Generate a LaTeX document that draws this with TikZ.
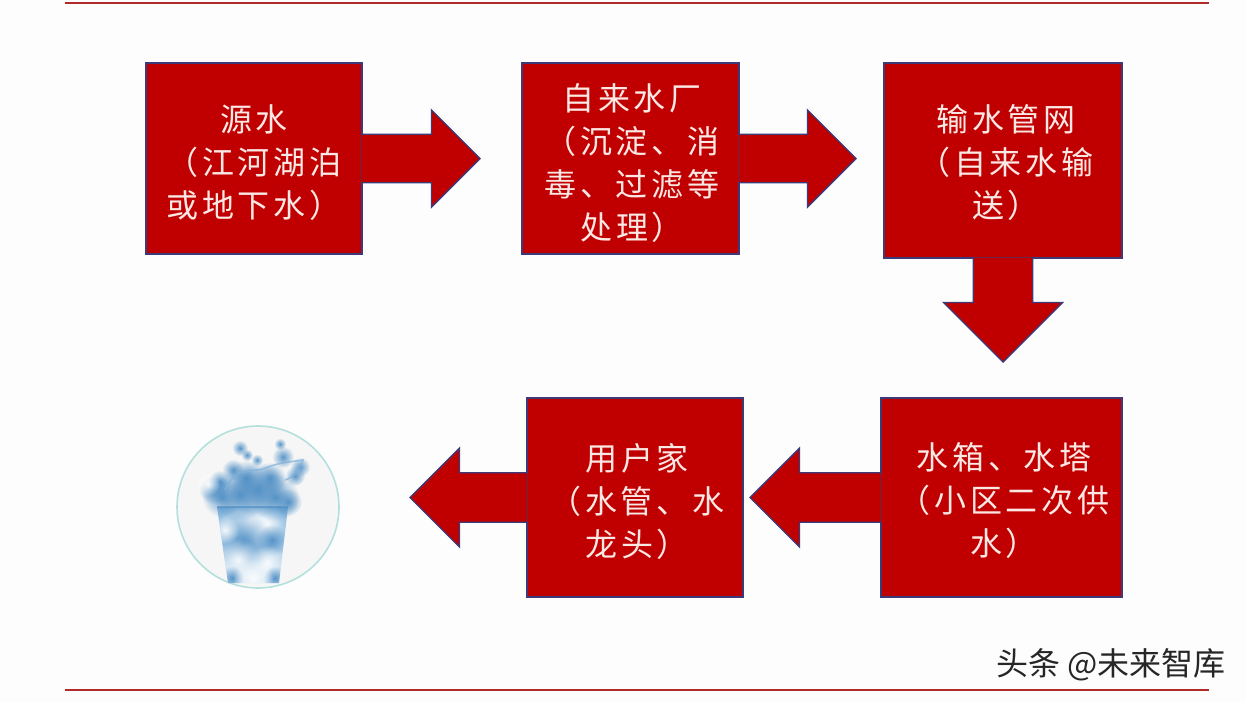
\documentclass[tikz,border=0pt]{standalone}
\usepackage{fontspec}
\usetikzlibrary{calc,fadings}
\newfontfamily\cjkFont[LetterSpace=12]{Noto Sans CJK SC}
\newfontfamily\creditFont{Noto Sans CJK SC}
\definecolor{boxRed}{HTML}{C00000}
\definecolor{boxEdge}{HTML}{3C3A78}
\definecolor{boxText}{HTML}{FBE8E4}
\definecolor{ruleRed}{HTML}{B22A2A}
\definecolor{pageWhite}{HTML}{FDFDFE}
\definecolor{waterBlue}{HTML}{7FB2DC}
\definecolor{waterDeep}{HTML}{4A8CC4}
\definecolor{ringTeal}{HTML}{B4E0DC}
\tikzfading[name=softBlob, inner color=transparent!10, outer color=transparent!100]
\tikzstyle{diagram} = [x = 1pt, y = -1pt]
\tikzstyle{stepBox} = [draw=boxEdge, fill=boxRed, line width=1.4pt, inner sep=0pt]
\tikzstyle{stepLabel} = [text=boxText, align=center, font=\cjkFont\fontsize{32}{43}\selectfont]
\tikzstyle{blockArrow} = [draw=boxEdge, fill=boxRed, line width=1.4pt, line join=miter]
\tikzstyle{ruleLine} = [color=ruleRed, line width=1.6pt]
\tikzstyle{blob} = [path fading=softBlob]
\newcommand{\stepArrow}[3]{
  \pgfmathsetmacro{\shaftHalf}{#3 / 2}
  \coordinate (headBase) at ($(#2)!#3pt!(#1)$);
  \coordinate (shaftBase) at ($(#1)!-1pt!(#2)$);
  \filldraw [blockArrow] ($(shaftBase)!\shaftHalf pt!90:(#2)$) -- ($(headBase)!\shaftHalf pt!-90:(#1)$) -- ($(headBase)!#3pt!-90:(#1)$) -- (#2) -- ($(headBase)!#3pt!90:(#1)$) -- ($(headBase)!\shaftHalf pt!90:(#1)$) -- ($(shaftBase)!\shaftHalf pt!-90:(#2)$);
}
\begin{document}
\begin{tikzpicture}[diagram]
  \useasboundingbox [fill=pageWhite] (0,0) rectangle (1246,702);
  \draw [ruleLine] (65,3) -- (1209,3);
  \draw [ruleLine] (65,690) -- (1209,690);
  % boxes
  \node [stepBox, minimum width=216pt, minimum height=191pt] (source) at (254,158.5) {};
  \node [stepLabel] (sourceLabel) at (254,163) {源水\\（江河湖泊\\或地下水）};
  \node [stepBox, minimum width=217pt, minimum height=191pt] (plant) at (630.5,158.5) {};
  \node [stepLabel] (plantLabel) at (632,163) {自来水厂\\（沉淀、消\\毒、过滤等\\处理）};
  \node [stepBox, minimum width=238pt, minimum height=195pt] (pipes) at (1003,160.5) {};
  \node [stepLabel] (pipesLabel) at (1006,163) {输水管网\\（自来水输\\送）};
  \node [stepBox, minimum width=241pt, minimum height=199pt] (tank) at (1001.5,497.5) {};
  \node [stepLabel] (tankLabel) at (1004,501) {水箱、水塔\\（小区二次供\\水）};
  \node [stepBox, minimum width=216pt, minimum height=199pt] (home) at (635,497.5) {};
  \node [stepLabel] (homeLabel) at (637,501) {用户家\\（水管、水\\龙头）};
  % arrows
  \coordinate (sourceTip) at (480,158.5);
  \coordinate (plantTip) at (856,158.5);
  \coordinate (pipesTip) at (1003,362);
  \coordinate (tankTip) at (750,497.5);
  \coordinate (homeTip) at (410,497.5);
  \stepArrow{source.east}{sourceTip}{48.5}
  \stepArrow{plant.east}{plantTip}{48.5}
  \stepArrow{pipes.south}{pipesTip}{59.5}
  \stepArrow{tank.west}{tankTip}{49.5}
  \stepArrow{home.west}{homeTip}{49.5}
  % glass of water
  \node [circle, draw=ringTeal, fill=gray!7, line width=1.6pt, minimum size=162pt, inner sep=0pt] (glass) at (258,507) {};
  \shade [top color=waterBlue!90, bottom color=waterBlue!35] (217,507) -- (288,507) -- (279,583) -- (228,583) -- cycle;
  \begin{scope}
    \clip (217,507) -- (288,507) -- (279,583) -- (228,583) -- cycle;
    \foreach \blobX/\blobY/\blobR/\blobC in {250/522/30/white, 265/525/22/white, 243/542/30/waterDeep, 272/540/16/waterDeep, 238/560/22/white, 267/563/18/white, 225/530/14/white, 232/578/12/waterDeep, 275/578/12/waterDeep, 253/578/20/white}
      \fill [blob, \blobC] (\blobX,\blobY) circle (\blobR);
  \end{scope}
  \foreach \blobX/\blobY/\blobR in {222/497/20, 240/495/26, 258/490/28, 275/497/24, 288/502/14, 213/490/14, 220/482/12, 233/470/11, 240/448/8, 247/455/6, 257/460/6, 283/457/11, 280/444/6, 300/467/10, 295/476/10, 270/478/16, 246/478/18}
    \fill [blob, waterDeep] (\blobX,\blobY) circle (\blobR);
  \fill [blob, white] (208,484) circle (12);
  \draw [waterBlue, line width=1.6pt, opacity=0.7] (225,490) .. controls (238,462) and (252,475) .. (268,467) .. controls (282,462) and (290,462) .. (303,460) .. controls (300,470) and (292,478) .. (285,480);
  \draw [waterDeep, line width=1.8pt, opacity=0.6] (217,507) -- (288,507);
  % credit
  \node [font=\creditFont\fontsize{32}{34}\selectfont, text=black!85, inner sep=0pt] (credit) at (1111,665) {头条 @未来智库};
\end{tikzpicture}
\end{document}
